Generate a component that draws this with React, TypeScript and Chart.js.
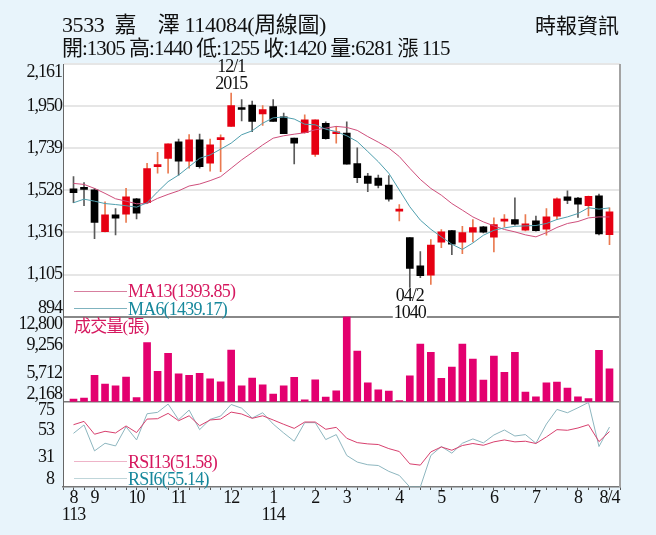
import { useEffect, useRef } from "react";
import { Chart, registerables } from "chart.js";

Chart.register(...registerables);

// weekly candles
const opens = [1535, 1537, 1530, 1320, 1404, 1408, 1485, 1465, 1646, 1688, 1770, 1673, 1781, 1663, 1782, 1848, 1940, 1955, 1910, 1947, 1896, 1789, 1817, 1707, 1864, 1811, 1814, 1661, 1599, 1589, 1554, 1423, 1290, 1149, 1102, 1267, 1325, 1267, 1317, 1344, 1292, 1373, 1381, 1327, 1374, 1332, 1398, 1495, 1488, 1451, 1500, 1305];
const highs = [1596, 1566, 1537, 1470, 1436, 1537, 1487, 1663, 1718, 1760, 1784, 1807, 1809, 1784, 1806, 2015, 1982, 1975, 1952, 1982, 1915, 1789, 1906, 1881, 1871, 1848, 1871, 1740, 1613, 1604, 1601, 1456, 1290, 1220, 1280, 1331, 1327, 1347, 1381, 1347, 1389, 1406, 1490, 1406, 1398, 1436, 1490, 1525, 1492, 1498, 1508, 1440];
const lows = [1465, 1450, 1285, 1319, 1304, 1366, 1384, 1461, 1613, 1613, 1604, 1638, 1638, 1624, 1621, 1848, 1876, 1822, 1853, 1873, 1811, 1660, 1814, 1697, 1784, 1764, 1658, 1566, 1520, 1539, 1473, 1374, 1040, 1089, 1055, 1240, 1205, 1210, 1268, 1314, 1218, 1344, 1352, 1324, 1322, 1302, 1381, 1461, 1391, 1399, 1304, 1255];
const closes = [1515, 1532, 1366, 1404, 1388, 1495, 1413, 1636, 1651, 1760, 1673, 1781, 1646, 1755, 1791, 1952, 1933, 1873, 1932, 1873, 1812, 1764, 1881, 1881, 1787, 1819, 1658, 1591, 1562, 1552, 1483, 1430, 1136, 1099, 1253, 1319, 1257, 1315, 1341, 1317, 1356, 1381, 1357, 1359, 1325, 1394, 1485, 1477, 1458, 1497, 1309, 1420];
const ma13 = [1562, 1557, 1537, 1512, 1485, 1473, 1460, 1461, 1487, 1507, 1525, 1549, 1559, 1576, 1596, 1638, 1680, 1717, 1755, 1789, 1801, 1809, 1816, 1831, 1839, 1848, 1843, 1828, 1797, 1769, 1739, 1697, 1638, 1582, 1537, 1503, 1461, 1428, 1394, 1369, 1349, 1331, 1319, 1304, 1294, 1315, 1341, 1361, 1371, 1389, 1394, 1393.85];
const ma6 = [1465, 1483, 1473, 1461, 1456, 1450, 1443, 1465, 1520, 1571, 1604, 1646, 1688, 1705, 1734, 1764, 1806, 1826, 1864, 1891, 1895, 1885, 1859, 1856, 1834, 1822, 1801, 1772, 1722, 1671, 1613, 1529, 1445, 1378, 1332, 1294, 1257, 1231, 1263, 1302, 1327, 1339, 1347, 1349, 1351, 1361, 1381, 1394, 1411, 1440, 1433, 1439.17];
const volumes = [2502, 2627, 5462, 4378, 4170, 5254, 2710, 9549, 5963, 8215, 5671, 5462, 5713, 5045, 4670, 8632, 4170, 5129, 4295, 3127, 4170, 5212, 2418, 4920, 2752, 3544, 12800, 8506, 4545, 3669, 3502, 2335, 5421, 9382, 8340, 5087, 6505, 9382, 7506, 4879, 7881, 5838, 8340, 3377, 2794, 4545, 4628, 3878, 2794, 2585, 8590, 6281];
const rsi13 = [57, 59.6, 49.5, 51.8, 50.5, 56, 50.8, 61.4, 61.7, 65.9, 60.1, 64, 56.2, 60.7, 61.4, 66.9, 65.4, 62, 64, 60.7, 57.3, 54.1, 59.1, 59.1, 53.4, 54.9, 46.3, 42.9, 41.9, 41.4, 38.2, 35.9, 26.2, 25.2, 35.6, 39.5, 36.9, 40.6, 42.2, 40.8, 43.5, 45, 43.5, 44, 42.2, 47.4, 53.1, 52.6, 54.4, 57, 43.7, 51.58];
const rsi6 = [50.2, 56.8, 36.4, 42.4, 40.3, 55.4, 45, 65.6, 66.7, 73.2, 60.9, 68.5, 53.1, 61.2, 63.8, 72.9, 70, 62.2, 66.4, 57.5, 50.5, 44, 58.6, 58.6, 45.3, 49.2, 32.8, 27.6, 25.5, 24.9, 20.3, 17.1, 8, 8, 32.8, 39.8, 34.6, 42.4, 45.8, 42.7, 48.9, 52.8, 48.1, 49.2, 42.4, 57.5, 69, 66.4, 70.3, 74.5, 39.8, 55.14];

// month labels on the bottom axis, one slot per week plus an empty slot at each end
const weekLabels: (string | string[])[] = [
  "", ["8", "113"], "", "9", "", "", "", "10", "", "", "", "11", "", "", "", "", "12", "", "", "", ["1", "114"], "", "", "", "2", "", "", "3", "", "", "", "", "4", "", "", "", "5", "", "", "", "", "6", "", "", "", "7", "", "", "", "8", "", "", "8/4", "",
];

const priceTicks = [894, 1105, 1316, 1528, 1739, 1950, 2161];
const volumeTicks = [2168, 5712, 9256, 12800];
const rsiTicks = [8, 31, 53, 75];

const BG = "#e8f4fb";
const RED = "#e60012";
const PINK = "#e3006f";
const SERIF = '"Liberation Serif", "Noto Sans CJK TC", serif';

const pad = (arr: number[]) => [null, ...arr, null];
const isUp = (i: number) => closes[i] >= opens[i];

const bodyData = pad(opens).map((o, i) => (o === null ? null : [o, closes[i - 1]]));
const wickData = pad(lows).map((l, i) => (l === null ? null : [l, highs[i - 1]]));
const bodyColors = pad(opens).map((_, i) => (i > 0 && i <= opens.length && isUp(i - 1) ? RED : "#000"));
const wickColors = pad(opens).map((_, i) => (i > 0 && i <= opens.length && isUp(i - 1) ? "#ea7a50" : "#5a5a5a"));

const pinnedTicks = (values: number[]) => (scale: any) => {
  scale.ticks = values.map((value) => ({ value }));
};

const yAxis = (values: number[], extra: any) => ({
  position: "left",
  stack: "panels",
  min: values[0],
  max: values[values.length - 1],
  afterBuildTicks: pinnedTicks(values),
  afterFit: (scale: any) => {
    scale.width = 63;
  },
  border: { color: "#666", width: 1 },
  ticks: {
    autoSkip: false,
    padding: 1,
    color: "#111",
    font: { family: SERIF, size: 18 },
  },
  ...extra,
});

const panelPlugin = {
  id: "panel",
  // end labels of each panel sit inside it
  afterLayout(chart: any) {
    for (const id of ["yPrice", "yVolume", "yRsi"]) {
      const items = chart.scales[id].getLabelItems();
      items[0].options.translation[1] -= 8;
      items[items.length - 1].options.translation[1] += 8;
    }
  },
  beforeDraw(chart: any) {
    const { ctx, chartArea: a } = chart;
    ctx.save();
    ctx.fillStyle = "#fff";
    ctx.fillRect(a.left, a.top, a.right - a.left, a.bottom - a.top);
    ctx.restore();
    ctx.letterSpacing = "-1px";
  },
  afterDraw(chart: any) {
    const { ctx, chartArea: a, scales } = chart;
    ctx.save();
    ctx.strokeStyle = "#a3a3a3";
    ctx.lineWidth = 2;
    ctx.beginPath();
    ctx.moveTo(a.right, a.top);
    ctx.lineTo(a.right, a.bottom);
    ctx.stroke();

    // high and low callouts follow the candles
    ctx.font = `18px ${SERIF}`;
    ctx.fillStyle = "#111";
    ctx.textAlign = "center";
    ctx.textBaseline = "bottom";
    const hi = highs.indexOf(Math.max(...highs));
    const hx = scales.x.getPixelForValue(hi + 1);
    const hy = scales.yPrice.getPixelForValue(highs[hi]);
    ctx.fillText("2015", hx, hy);
    ctx.fillText("12/1", hx, hy - 17);

    const lo = lows.indexOf(Math.min(...lows));
    const lx = scales.x.getPixelForValue(lo + 1);
    const ly = scales.yPrice.getPixelForValue(lows[lo]);
    ctx.textBaseline = "top";
    ctx.fillText("04/2", lx, ly);
    ctx.fillStyle = "#fff";
    ctx.fillRect(lx - 17, ly + 18, 34, 13);
    ctx.fillStyle = "#111";
    ctx.fillText("1040", lx, ly + 17);
    ctx.restore();
  },
};

const captions = [
  { text: "3533  嘉　澤 114084(周線圖)", left: 62, top: 14, size: 22, color: "#111", spacing: -0.4 },
  { text: "開:1305 高:1440 低:1255 收:1420 量:6281 漲 115", left: 62, top: 37, size: 21, color: "#111", spacing: -1 },
  { text: "時報資訊", left: 535, top: 15, size: 21, color: "#111", spacing: 0 },
  { text: "MA13(1393.85)", left: 128, top: 280, size: 18, color: "#d6185f", spacing: -0.8 },
  { text: "MA6(1439.17)", left: 128, top: 298, size: 18, color: "#17889c", spacing: -0.8 },
  { text: "成交量(張)", left: 74, top: 316, size: 17, color: "#d6185f", spacing: -0.8 },
  { text: "RSI13(51.58)", left: 128, top: 451, size: 18, color: "#d6185f", spacing: -0.8 },
  { text: "RSI6(55.14)", left: 128, top: 468, size: 18, color: "#17889c", spacing: -0.8 },
];

const keyLines = [
  { top: 291, color: "#d77f9f" },
  { top: 308, color: "#7fb3bf" },
  { top: 461, color: "#eeb4c8" },
  { top: 478, color: "#bfd6da" },
];

export default function App() {
  const canvasRef = useRef<HTMLCanvasElement>(null);

  useEffect(() => {
    if (!canvasRef.current) return;

    const chart = new Chart(canvasRef.current, {
      type: "bar",
      data: {
        labels: weekLabels as any,
        datasets: [
          { label: "high-low", data: wickData as any, yAxisID: "yPrice", backgroundColor: wickColors, barThickness: 1, grouped: false, order: 5 },
          { label: "open-close", data: bodyData as any, yAxisID: "yPrice", backgroundColor: bodyColors, barThickness: 7, minBarLength: 2, grouped: false, order: 4 },
          { type: "line", label: "MA13", data: pad(ma13) as any, yAxisID: "yPrice", borderColor: "#cf4f7c", borderWidth: 1, pointRadius: 0, order: 2 },
          { type: "line", label: "MA6", data: pad(ma6) as any, yAxisID: "yPrice", borderColor: "#4f9fae", borderWidth: 1, pointRadius: 0, order: 1 },
          { label: "volume", data: pad(volumes) as any, yAxisID: "yVolume", backgroundColor: PINK, barThickness: 7, grouped: false, order: 3 },
          { type: "line", label: "RSI6", data: pad(rsi6) as any, yAxisID: "yRsi", borderColor: "#8db6bf", borderWidth: 1, pointRadius: 0, order: 2 },
          { type: "line", label: "RSI13", data: pad(rsi13) as any, yAxisID: "yRsi", borderColor: "#d8406e", borderWidth: 1, pointRadius: 0, order: 1 },
        ] as any,
      },
      options: {
        responsive: false,
        animation: false,
        layout: { padding: { top: 64, right: 36, left: 0, bottom: 0 } },
        plugins: { legend: { display: false }, tooltip: { enabled: false } },
        scales: {
          x: {
            offset: false,
            grid: { offset: false, drawOnChartArea: false, tickLength: 3, tickColor: "#555" },
            border: { color: "#777", width: 1.5 },
            afterFit: (scale: any) => {
              scale.height = 48;
            },
            ticks: {
              autoSkip: false,
              maxRotation: 0,
              padding: 0,
              color: "#111",
              font: { family: SERIF, size: 18, lineHeight: 0.95 },
            },
          },
          yRsi: yAxis(rsiTicks, { stackWeight: 85, weight: 1, grid: { display: false } }),
          yVolume: yAxis(volumeTicks, {
            stackWeight: 85,
            weight: 2,
            grid: {
              color: (c: any) => (c.tick.value === 2168 ? "#777" : "transparent"),
              lineWidth: 1.5,
              drawTicks: false,
            },
          }),
          yPrice: yAxis(priceTicks, {
            stackWeight: 252,
            weight: 3,
            grid: {
              color: (c: any) => (c.tick.value === 894 ? "#888" : "#e6e6e6"),
              lineWidth: 2,
              drawTicks: false,
            },
          }),
        } as any,
      },
      plugins: [panelPlugin as any],
    });

    return () => chart.destroy();
  }, []);

  return (
    <div style={{ position: "fixed", left: 0, top: 0, width: 656, height: 535, background: BG, overflow: "hidden" }}>
      <canvas ref={canvasRef} width={656} height={535} style={{ position: "absolute", left: 0, top: 0 }} />
      {keyLines.map((line) => (
        <div key={line.top} style={{ position: "absolute", left: 74, top: line.top, width: 53, height: 1, background: line.color }} />
      ))}
      {captions.map((c) => (
        <span
          key={c.text}
          style={{
            position: "absolute",
            left: c.left,
            top: c.top,
            fontFamily: SERIF,
            fontSize: c.size,
            lineHeight: "22px",
            color: c.color,
            letterSpacing: c.spacing,
            whiteSpace: "pre",
          }}
        >
          {c.text}
        </span>
      ))}
    </div>
  );
}
